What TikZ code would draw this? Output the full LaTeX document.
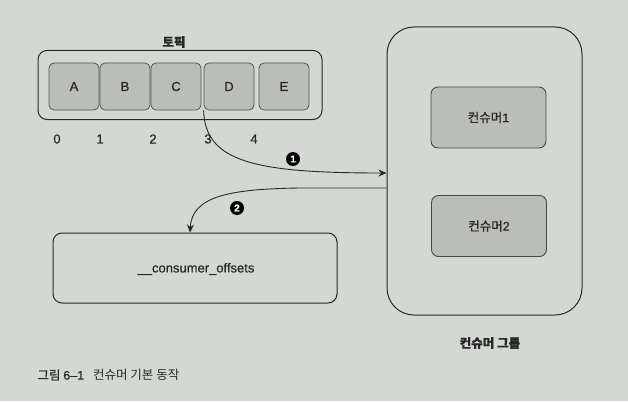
\documentclass[tikz,border=0pt]{standalone}
\usepackage{fontspec}
\setmainfont{Liberation Sans}[FakeBold=0.6]
\newfontfamily\kr{Noto Sans CJK KR}[FakeBold=0.7]
\newfontfamily\krlight{Noto Sans CJK KR}
\usetikzlibrary{arrows.meta}
\definecolor{paper}{RGB}{212,216,211}
\definecolor{boxfill}{RGB}{186,189,184}
\definecolor{ink}{RGB}{40,40,40}
\tikzset{
  outerbox/.style={draw=ink, line width=1pt, rounded corners=9pt},
  txt/.style={font=\fontsize{13}{15}\selectfont, text=ink},
  cell/.style={txt, draw=ink!80, line width=0.8pt, fill=boxfill, rounded corners=5pt, minimum width=50pt, minimum height=47pt, inner sep=0pt},
  consumer/.style={draw=ink!85, line width=0.9pt, fill=boxfill, rounded corners=7pt, minimum width=115pt, minimum height=61pt, inner sep=0pt, font=\fontsize{12.5}{14}\selectfont, text=ink},
  boldlbl/.style={font=\kr\bfseries\fontsize{12.5}{14}\selectfont, text=ink},
  circ/.style={circle, fill=black, text=white, inner sep=0pt, minimum size=14pt, font=\bfseries\fontsize{10}{10}\selectfont},
  conn/.style={draw=ink, line width=0.9pt, -{Stealth[length=8pt,width=7pt]}}
}
\begin{document}
\begin{tikzpicture}[x=1pt,y=-1pt]
\useasboundingbox (0,0) rectangle (628,401);
\fill[paper] (0,0) rectangle (628,401);

% topic
\node[outerbox, minimum width=284pt, minimum height=69pt] (topic) at (180,85) {};
\node[boldlbl] (topiclbl) at (174,42) {토픽};
\node[cell] (A) at (74,86.5) {A};
\node[cell] (B) at (125,86.5) {B};
\node[cell] (C) at (176,86.5) {C};
\node[cell] (D) at (229,86.5) {D};
\node[cell] (E) at (284,86.5) {E};
\node[txt] (n0) at (57,139) {0};
\node[txt] (n1) at (100,139) {1};
\node[txt] (n2) at (153,139) {2};
\node[txt] (n3) at (208,139) {3};
\node[txt] (n4) at (254,139) {4};

% consumer group
\node[outerbox, rounded corners=27pt, minimum width=195pt, minimum height=288pt] (group) at (484.5,171) {};
\node[consumer] (c1) at (488.5,117.5) {{\kr 컨슈머}1};
\node[consumer] (c2) at (489,226) {{\kr 컨슈머}2};
\node[boldlbl] (grouplbl) at (490,343) {컨슈머 그룹};

% offsets
\node[outerbox, minimum width=284pt, minimum height=70pt] (offsets) at (195,268) {};
\node[txt] (offlbl) at (196,269) {\_\_consumer\_offsets};

% connectors
\coordinate (in1) at (group.west |- 0,173);
\coordinate (out2) at (group.west |- 0,188);
\draw[conn] (D.south west) .. controls (205,162) and (255,173) .. (in1);
\draw[conn] (out2) -- (300,188) .. controls (230,189) and (192,196) .. (offsets.north -| 190,0);
\node[circ] (m1) at (293,159) {1};
\node[circ] (m2) at (237,208) {2};

% caption
\node[anchor=west, font=\fontsize{12.5}{14}\selectfont, text=ink] (cap) at (34,375) {{\kr 그림 }6–1\hspace{9pt}{\krlight 컨슈머 기본 동작}};
\end{tikzpicture}
\end{document}
